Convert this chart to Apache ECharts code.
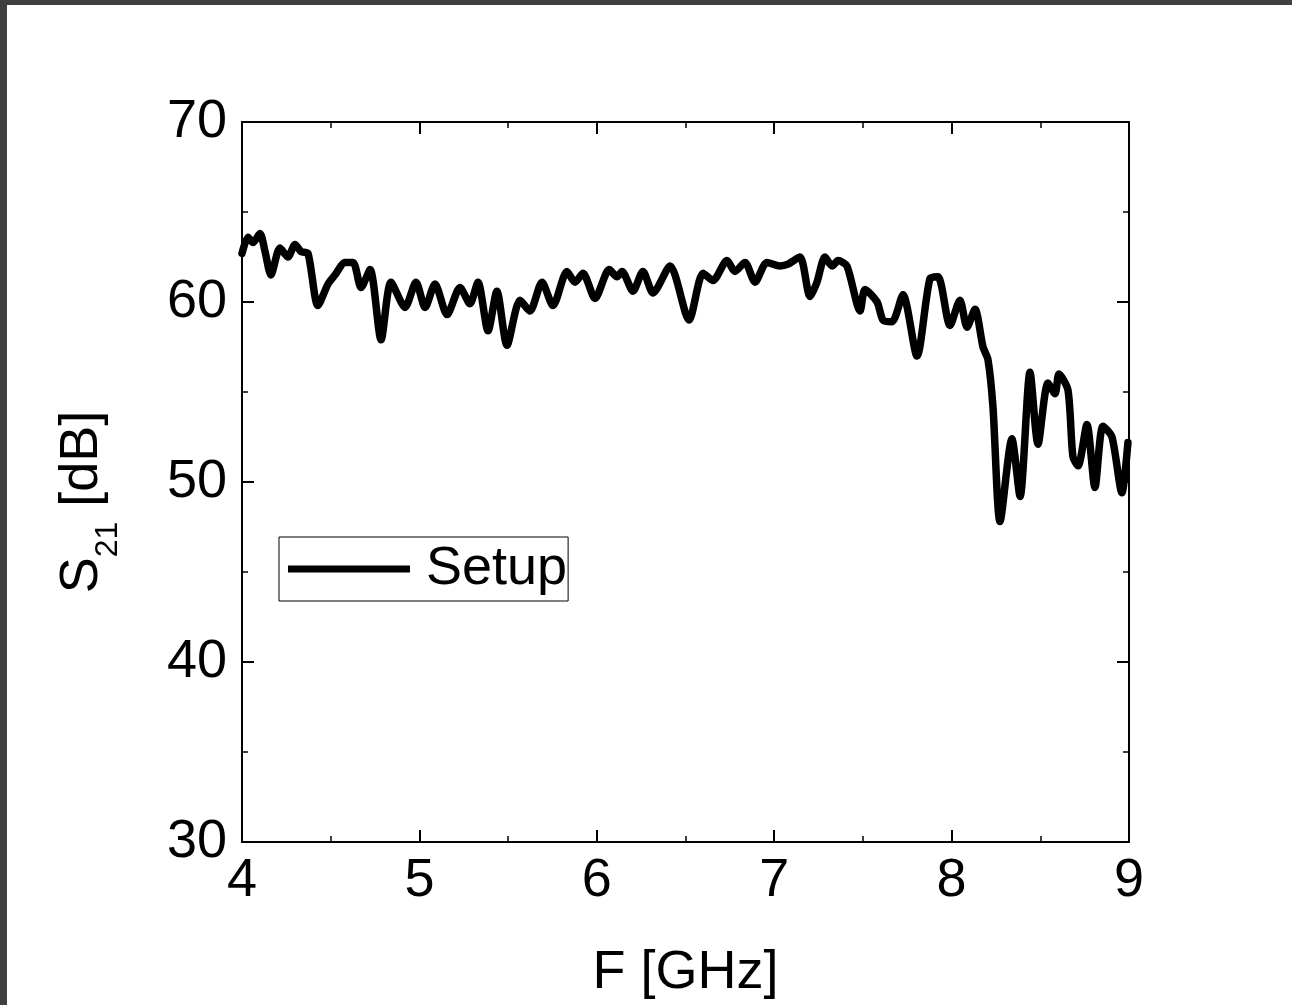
<!DOCTYPE html>
<html>
<head>
<meta charset="utf-8">
<script src="https://cdn.jsdelivr.net/npm/echarts@6/dist/echarts.min.js"></script>
<style>
html,body{margin:0;padding:0;background:#fff;}
#chart{width:1292px;height:1005px;}
</style>
</head>
<body>
<div id="chart"></div>
<script>
// Frequency in GHz
var freq = [4.00,4.034,4.062,4.101,4.130,4.163,4.214,4.259,4.299,4.333,4.372,4.428,4.485,4.524,4.581,4.626,4.671,4.722,4.784,4.840,4.919,4.981,5.032,5.088,5.156,5.229,5.285,5.330,5.387,5.437,5.494,5.567,5.623,5.691,5.753,5.832,5.877,5.922,5.990,6.070,6.114,6.142,6.204,6.260,6.317,6.413,6.520,6.599,6.655,6.734,6.779,6.835,6.892,6.959,7.033,7.078,7.145,7.202,7.241,7.286,7.326,7.360,7.410,7.484,7.512,7.580,7.613,7.664,7.726,7.805,7.878,7.923,7.991,8.047,8.087,8.132,8.177,8.205,8.233,8.273,8.340,8.386,8.442,8.487,8.543,8.583,8.605,8.656,8.684,8.713,8.763,8.808,8.853,8.904,8.960,8.994];
// S21 in dB
var s21 = [62.7,63.6,63.3,63.8,62.8,61.5,63.0,62.5,63.2,62.8,62.7,59.8,61.0,61.5,62.2,62.2,60.8,61.8,57.9,61.1,59.7,61.1,59.7,61.0,59.3,60.8,59.9,61.1,58.4,60.6,57.6,60.1,59.5,61.1,59.8,61.7,61.1,61.6,60.2,61.8,61.4,61.7,60.6,61.7,60.5,62.0,59.0,61.6,61.2,62.3,61.7,62.2,61.1,62.2,62.0,62.1,62.5,60.3,61.1,62.5,62.0,62.3,62.0,59.5,60.7,60.0,59.0,58.9,60.4,57.0,61.3,61.4,58.7,60.1,58.6,59.6,57.5,56.8,54.2,47.8,52.4,49.2,56.1,52.1,55.5,54.9,56.0,55.1,51.4,50.9,53.2,49.7,53.1,52.5,49.4,52.2];
var xTicks = [4,5,6,7,8,9];
var yTicks = [30,40,50,60,70];
var seriesName = 'Setup';

var data = freq.map(function(f,i){return [f, s21[i]];});
var FONT = 'Liberation Sans, Arial, sans-serif';
var FS = 54;

var chart = echarts.init(document.getElementById('chart'));
var axisCommon = {
  axisLine:{show:true, lineStyle:{color:'#000', width:2}},
  axisTick:{show:true, inside:true, length:12, lineStyle:{color:'#000', width:2}},
  minorTick:{show:true, splitNumber:2, length:6, lineStyle:{color:'#000', width:1.5}},
  splitLine:{show:false}
};
function ax(extra){ return Object.assign({}, JSON.parse(JSON.stringify(axisCommon)), extra); }

chart.setOption({
  animation:false,
  backgroundColor:'#fff',
  graphic:[
    {type:'rect', shape:{x:0,y:0,width:1292,height:5}, style:{fill:'#404040'}, silent:true},
    {type:'rect', shape:{x:0,y:0,width:7,height:1005}, style:{fill:'#404040'}, silent:true}
  ],
  grid:{left:242, top:122, right:163, bottom:162, show:false},
  legend:{
    show:true, left:279, top:537, orient:'horizontal',
    data:[{name:seriesName, icon:'rect'}],
    itemWidth:122, itemHeight:7,
    padding:[5,1,5,9],
    borderColor:'#000', borderWidth:1,
    itemStyle:{color:'#000'},
    textStyle:{fontFamily:FONT, fontSize:FS, color:'#000', padding:[0,0,0,11], lineHeight:52}
  },
  xAxis:[
    ax({type:'value', position:'bottom', min:xTicks[0], max:xTicks[xTicks.length-1], interval:1,
      axisLabel:{show:true, margin:12, fontFamily:FONT, fontSize:FS, color:'#000',
        formatter:function(v){return xTicks.indexOf(v)>=0 ? String(v) : '';}},
      name:'F [GHz]', nameLocation:'middle', nameGap:104,
      nameTextStyle:{fontFamily:FONT, fontSize:FS, color:'#000'}}),
    ax({type:'value', position:'top', min:xTicks[0], max:xTicks[xTicks.length-1], interval:1,
      axisLabel:{show:false}})
  ],
  yAxis:[
    ax({type:'value', position:'left', min:yTicks[0], max:yTicks[yTicks.length-1], interval:10,
      axisLabel:{show:true, margin:15, fontFamily:FONT, fontSize:FS, color:'#000',
        formatter:function(v){return yTicks.indexOf(v)>=0 ? String(v) : '';}},
      name:'{a|S}{b|21}{a| [dB]}', nameLocation:'middle', nameGap:118,
      nameTextStyle:{fontFamily:FONT, fontSize:FS, color:'#000', padding:[0,40,0,0],
        rich:{
          a:{fontFamily:FONT, fontSize:FS, color:'#000', lineHeight:84, verticalAlign:'middle'},
          b:{fontFamily:FONT, fontSize:32, color:'#000', lineHeight:36, verticalAlign:'bottom'}
        }}}),
    ax({type:'value', position:'right', min:yTicks[0], max:yTicks[yTicks.length-1], interval:10,
      axisLabel:{show:false}})
  ],
  series:[{
    name:seriesName, type:'line', data:data, xAxisIndex:0, yAxisIndex:0,
    symbol:'none', smooth:0.25,
    lineStyle:{color:'#000', width:7.5, join:'round', cap:'round'},
    itemStyle:{color:'#000'}
  }]
});
</script>
</body>
</html>
